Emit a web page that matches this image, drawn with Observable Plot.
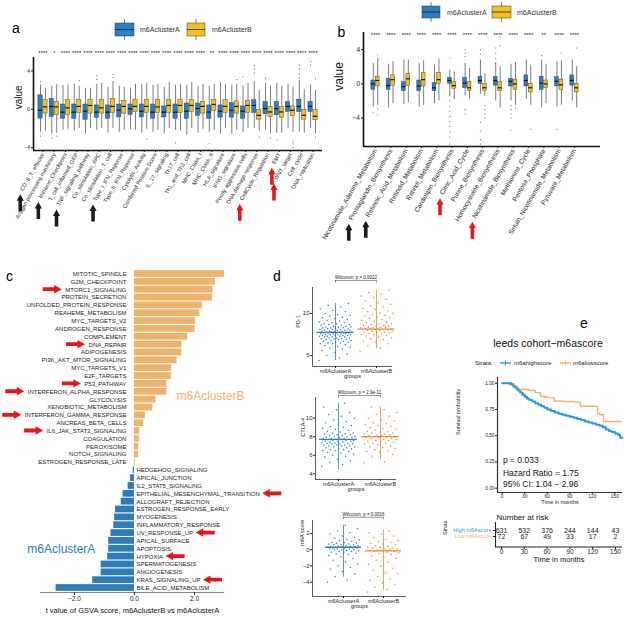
<!DOCTYPE html>
<html><head><meta charset="utf-8">
<script src="https://cdn.jsdelivr.net/npm/d3@7"></script>
<script src="https://cdn.jsdelivr.net/npm/@observablehq/plot@0.6"></script>
<style>
html,body{margin:0;padding:0;background:#fff;}
#fig{position:relative;width:625px;height:617px;overflow:hidden;background:#fff;font-family:"Liberation Sans",Arial,sans-serif;}
.pn{position:absolute;}
.pn svg{overflow:visible;}
</style></head><body><div id="fig"></div>
<script>
// ---------------- DATA ----------------
const clusters = ["m6AclusterA", "m6AclusterB"];

// panel a
const aCats = ["CD_8_T_effector","Antigen processing machinery","Immune_Checkpoint","T_cell_inflamed_GEP","TNF_signaling_pathway","Co_stimulation_APC","Co_stimulation_T_cell","Type_I_IFN_Reponse","Type_II_IFN_Reponse","Cytolytic_Activity","Combined Positive Score","IL_17_signaling","Th17_cell","Th1_and_Th2_cell","MHC_Class_I","MHC_Class_II","HLA_signature","IFNG_signature","Poorly aggressive cells","DNA damage response","CellCycle_Regulation","EMT","WNT_target","Cell_cycle","DNA_replication"];
const aSig = ["****","*","****","****","****","****","****","****","****","****","****","****","****","****","****","**","****","****","****","****","****","****","****","****","****"];
const aA_q1  = [-0.97,-0.8,-1.0,-1.0,-1.1,-0.9,-1.0,-0.85,-0.6,-0.85,-1.0,-0.85,-1.0,-1.0,-0.7,-1.0,-0.87,-0.87,-1.0,-0.38,-0.52,-0.63,-0.28,-0.28,-0.28];
const aA_med = [-0.1,0.3,-0.3,-0.3,-0.2,-0.3,-0.3,-0.1,0.05,-0.2,-0.3,-0.3,-0.3,-0.2,0.07,-0.28,-0.2,-0.1,-0.2,0.4,0.07,0.07,0.3,0.3,0.3];
const aA_q3  = [1.45,1.1,0.5,0.5,0.5,0.4,0.4,0.5,0.5,0.5,0.5,0.3,0.5,0.6,0.6,0.4,0.4,0.66,0.3,0.94,0.76,0.76,0.76,1.0,0.76];
const aA_lo  = [-2.4,-2.6,-2.2,-2.3,-2.6,-2.2,-2.5,-2.4,-2.1,-2.5,-2.4,-2.6,-2.2,-2.7,-2.5,-2.4,-2.6,-2.6,-2.4,-2.0,-2.2,-2.5,-2.0,-2.4,-2.0];
const aA_hi  = [2.5,2.4,2.5,2.6,2.2,2.6,2.3,2.4,2.2,2.6,2.5,2.3,2.5,2.5,2.4,2.4,2.8,2.5,2.4,2.9,2.7,2.7,2.6,3.0,2.5];
const aB_q1  = [-0.45,-0.6,-0.6,-0.4,-0.45,-0.45,-0.4,-0.45,-0.3,-0.4,-0.4,-0.4,-0.4,-0.28,-0.45,-0.17,-0.38,-0.45,-0.38,-1.08,-0.8,-0.87,-0.73,-1.08,-1.15];
const aB_med = [0.25,0.25,0.15,0.3,0.4,0.15,0.3,0.3,0.3,0.3,0.25,0.4,0.4,0.4,0.3,0.5,0.3,0.3,0.4,-0.63,-0.28,-0.28,-0.1,-0.63,-0.73];
const aB_q3  = [1.0,0.75,0.95,0.95,1.0,1.0,1.1,0.85,1.0,1.0,1.0,0.95,1.0,0.94,0.76,0.94,0.94,0.83,0.87,-0.1,0.24,0.24,0.3,-0.1,-0.1];
const aB_lo  = [-2.3,-2.5,-2.1,-2.0,-2.0,-2.0,-2.0,-2.2,-2.2,-2.1,-2.2,-2.0,-2.3,-2.0,-2.1,-2.2,-2.0,-2.2,-2.0,-2.3,-2.5,-2.5,-2.4,-2.5,-2.6];
const aB_hi  = [2.2,2.6,2.5,2.4,2.2,2.7,2.9,2.3,2.6,2.7,2.6,2.8,2.6,2.8,2.6,2.6,2.6,2.6,2.7,2.0,2.4,2.4,2.3,2.0,2.0];
const aOut = [[0,"A",-2.8],[0,"A",2.9],[1,"A",-3.0],[1,"B",-2.8],[3,"B",3.0],[5,"A",3.1],[5,"A",3.5],[6,"B",3.3],[6,"B",3.6],[9,"B",-3.1],[12,"A",-3.5],[15,"A",-3.6],[17,"B",3.1],[18,"A",3.4],[19,"A",4.6],[19,"A",4.2],[19,"A",3.8],[19,"B",-2.9],[20,"A",3.2],[20,"B",-3.0],[21,"A",-3.2],[22,"B",-3.3],[22,"B",-3.6],[22,"B",-4.0],[23,"A",4.6],[23,"A",4.2],[23,"A",3.7],[23,"A",3.3],[24,"A",5.0],[24,"A",4.6],[24,"B",3.2],[24,"B",-2.9]];
const aArrows = [["CD_8_T_effector","black"],["Immune_Checkpoint","black"],["TNF_signaling_pathway","black"],["Type_I_IFN_Reponse","black"],["CellCycle_Regulation","red"],["EMT","red"],["WNT_target","red"]];

// panel b
const bCats = ["Nicotinamide_Adenine_Metabolism","Prostaglandin_Biosynthesis","Retinoic_Acid_Metabolism","Retinoid_Metabolism","Retinol_Metabolism","Cardiolipin_Biosynthesis","Citric_Acid_Cycle","Purine_Biosynthesis","Homocysteine_Biosynthesis","Nicotinamide_Biosynthesis","Methionine_Cycle","Pentose_Phosphate","Sirtuin_Nicotinamide_Metabolism","Pyruvate_Metabolism"];
const bSig = ["****","****","****","****","****","****","****","****","****","****","****","**","****","****"];
const bA_q1  = [-0.7,-0.7,-0.85,-0.85,-0.85,0.0,-0.5,0.0,-0.2,-0.3,-0.3,-0.7,-0.3,-0.2];
const bA_med = [0.0,-0.2,-0.3,-0.25,-0.45,0.4,0.1,0.4,0.4,0.3,0.4,0.1,0.3,0.4];
const bA_q3  = [0.4,0.6,0.2,0.4,0.1,0.7,0.7,0.85,0.8,0.6,1.0,0.85,0.8,1.0];
const bA_lo  = [-2.7,-2.8,-2.4,-2.7,-2.3,-1.5,-1.4,-1.2,-2.0,-2.0,-1.8,-2.8,-2.7,-2.0];
const bA_hi  = [2.4,2.3,2.8,2.4,2.2,1.6,2.4,2.8,2.5,2.3,2.8,2.8,2.6,2.8];
const bB_q1  = [-0.3,-0.2,-0.2,-0.3,0.0,-0.6,-0.85,-0.8,-0.85,-0.7,-1.0,-0.5,-0.7,-1.0];
const bB_med = [0.4,0.5,0.6,0.5,0.5,-0.2,-0.45,-0.45,-0.45,0.0,-0.45,0.0,-0.1,-0.45];
const bB_q3  = [0.85,1.0,1.2,1.25,1.25,0.2,0.2,0.0,0.2,0.5,0.0,0.4,0.5,0.0];
const bB_lo  = [-2.5,-2.3,-2.2,-2.5,-2.0,-1.8,-1.8,-1.5,-2.8,-2.5,-2.5,-2.3,-2.5,-2.8];
const bB_hi  = [3.0,2.6,2.8,2.7,2.9,1.4,1.8,1.2,2.0,2.5,2.2,2.3,2.7,2.0];
const bOut = [[0,"A",-3.3],[0,"B",-3.6],[0,"B",-2.9],[0,"B",3.4],[5,"A",3.0],[5,"A",-2.0],[5,"A",-2.6],[5,"A",-3.2],[5,"A",-3.8],[5,"A",-4.4],[5,"A",-5.0],[5,"A",-5.6],[5,"A",-6.2],[5,"A",-7.0],[6,"A",4.0],[6,"A",3.6],[6,"A",3.2],[6,"A",-3.0],[6,"A",-3.5],[7,"A",4.0],[7,"A",3.5],[7,"A",-4.5],[7,"A",-5.5],[7,"A",-6.5],[7,"A",-7.0],[7,"B",-2.5],[7,"B",-3.0],[7,"B",-3.5],[7,"B",-4.0],[8,"A",4.2],[8,"A",3.6],[8,"A",3.0],[8,"B",5.5],[8,"B",4.5],[9,"A",-2.5],[9,"A",-3.0],[9,"A",-3.5],[9,"A",-4.0],[9,"A",-5.4],[9,"B",-2.8],[10,"B",-5.3],[11,"A",3.3],[12,"A",-5.3],[12,"B",3.6],[13,"B",4.2]];
const bArrows = [["Prostaglandin_Biosynthesis","black"],["Retinoic_Acid_Metabolism","black"],["Citric_Acid_Cycle","red"],["Nicotinamide_Biosynthesis","red"]];

// panel c
const cNames = ["MITOTIC_SPINDLE","G2M_CHECKPOINT","MTORC1_SIGNALING","PROTEIN_SECRETION","UNFOLDED_PROTEIN_RESPONSE","REAHEME_METABOLISM","MYC_TARGETS_V2","ANDROGEN_RESPONSE","COMPLEMENT","DNA_REPAIR","ADIPOGENESIS","PI3K_AKT_MTOR_SIGNALING","MYC_TARGETS_V1","E2F_TARGETS","P53_PATHWAY","INTERFERON_ALPHA_RESPONSE","GLYCOLYSIS","XENOBIOTIC_METABOLISM","INTERFERON_GAMMA_RESPONSE","ANCREAS_BETA_CELLS","IL6_JAK_STAT3_SIGNALING","COAGULATION","PEROXISOME","NOTCH_SIGNALING","ESTROGEN_RESPONSE_LATE","HEDGEHOG_SIGNALING","APICAL_JUNCTION","IL2_STAT5_SIGNALING","EPITHELIAL_MESENCHYMAL_TRANSITION","ALLOGRAFT_REJECTION","ESTROGEN_RESPONSE_EARLY","MYOGENESIS","INFLAMMATORY_RESPONSE","UV_RESPONSE_UP","APICAL_SURFACE","APOPTOSIS","HYPOXIA","SPERMATOGENESIS","ANGIOGENESIS","KRAS_SIGNALING_UP","BILE_ACID_METABOLISM"];
const cT = [3.0,2.7,2.62,2.6,2.26,2.18,2.03,2.02,1.77,1.58,1.58,1.42,1.24,1.23,1.08,1.08,0.72,0.61,0.37,0.31,0.17,0.16,0.14,0.14,0.03,-0.04,-0.13,-0.21,-0.38,-0.44,-0.63,-0.66,-0.69,-0.78,-0.86,-0.86,-0.89,-1.11,-1.11,-1.39,-2.61];
const cArrows = ["MTORC1_SIGNALING","DNA_REPAIR","P53_PATHWAY","INTERFERON_ALPHA_RESPONSE","INTERFERON_GAMMA_RESPONSE","IL6_JAK_STAT3_SIGNALING","EPITHELIAL_MESENCHYMAL_TRANSITION","UV_RESPONSE_UP","HYPOXIA","KRAS_SIGNALING_UP"];

// panel d
const dGroups = ["m6AclusterA", "m6AclusterB"];
const pd1A = [4.4,4.7,5.0,5.2,5.4,5.6,5.8,5.9,6.0,6.1,6.2,6.3,6.4,6.4,6.5,6.5,6.6,6.6,6.7,6.7,6.8,6.8,6.9,6.9,6.9,7.0,7.0,7.0,7.1,7.1,7.1,7.2,7.2,7.2,7.3,7.3,7.3,7.4,7.4,7.4,7.4,7.5,7.5,7.5,7.5,7.6,7.6,7.6,7.6,7.7,7.7,7.7,7.7,7.7,7.8,7.8,7.8,7.8,7.8,7.9,7.9,7.9,7.9,8.0,8.0,8.0,8.0,8.1,8.1,8.1,8.2,8.2,8.2,8.3,8.3,8.3,8.4,8.4,8.4,8.5,8.5,8.6,8.6,8.7,8.7,8.8,8.8,8.9,8.9,9.0,9.1,9.2,9.3,9.4,9.5,9.6,9.7,9.8,9.9,10.0,10.2,10.4,10.6,10.8,11.0,11.2];
const pd1B = [5.5,5.9,6.2,6.4,6.6,6.7,6.9,7.0,7.1,7.2,7.3,7.4,7.5,7.5,7.6,7.6,7.7,7.7,7.8,7.8,7.9,7.9,8.0,8.0,8.0,8.1,8.1,8.1,8.2,8.2,8.2,8.2,8.3,8.3,8.3,8.4,8.4,8.5,8.5,8.6,8.6,8.7,8.8,8.8,8.9,9.0,9.1,9.2,9.3,9.4,9.5,9.6,9.7,9.8,9.9,10.0,10.1,10.2,10.3,10.5,10.6,10.8,10.9,11.1,11.3,11.5,11.7,11.9,12.1,12.3,12.5,12.8];
const ctlaA = [4.8,5.0,5.2,5.4,5.6,5.8,5.9,6.0,6.1,6.2,6.3,6.4,6.5,6.5,6.6,6.6,6.7,6.7,6.8,6.8,6.9,6.9,7.0,7.0,7.0,7.1,7.1,7.1,7.2,7.2,7.2,7.3,7.3,7.3,7.4,7.4,7.4,7.5,7.5,7.5,7.6,7.6,7.6,7.7,7.7,7.7,7.7,7.8,7.8,7.8,7.9,7.9,7.9,8.0,8.0,8.0,8.1,8.1,8.2,8.2,8.3,8.3,8.4,8.4,8.5,8.6,8.7,8.8,8.9,9.0,9.1,9.2,9.3,9.5,9.6,9.8,10.0,10.2,10.4,10.6,10.9,11.2,11.6];
const ctlaB = [5.2,5.3,5.9,6.1,6.3,6.4,6.5,6.6,6.7,6.8,6.9,7.0,7.1,7.2,7.3,7.3,7.4,7.5,7.5,7.6,7.6,7.7,7.7,7.8,7.8,7.9,7.9,8.0,8.0,8.0,8.1,8.1,8.2,8.2,8.3,8.3,8.4,8.4,8.5,8.6,8.6,8.7,8.8,8.9,9.0,9.1,9.2,9.3,9.4,9.5,9.7,9.8,10.0,10.2,10.4,10.6,10.9,11.2];
const m6aA = [-4.0,-3.7,-3.3,-3.0,-2.7,-2.4,-2.2,-2.0,-1.8,-1.5,-1.3,-1.1,-0.9,-0.7,-0.6,-0.5,-0.4,-0.3,-0.3,-0.2,-0.2,-0.1,-0.1,0.0,0.0,0.0,0.1,0.1,0.1,0.2,0.2,0.2,0.2,0.3,0.3,0.3,0.3,0.4,0.4,0.4,0.4,0.5,0.5,0.5,0.6,0.6,0.6,0.7,0.7,0.8,0.8,0.9,0.9,1.0,1.1,1.2,1.3,1.4,1.5,1.7,1.9,2.1,2.3,2.6,3.0];
const m6aB = [-5.2,-4.9,-4.6,-4.3,-4.1,-3.8,-3.6,-3.3,-3.0,-2.8,-2.5,-2.3,-2.0,-1.8,-1.5,-1.3,-1.1,-0.9,-0.8,-0.6,-0.5,-0.4,-0.3,-0.2,-0.2,-0.1,-0.1,0.0,0.0,0.1,0.1,0.2,0.2,0.3,0.3,0.4,0.5,0.6,0.7,0.8,0.9,1.0,1.1,1.3,1.5,1.7,1.9,2.1,2.3];
const pd1Med = [7.75, 8.15], pd1Lo = [4.4, 5.8], pd1Hi = [11.2, 12.7];
const ctlaMed = [7.7, 8.0], ctlaLo = [4.4, 5.5], ctlaHi = [11.6, 11.2];
const m6aMed = [0.3, -0.15], m6aLo = [-3.4, -5.0], m6aHi = [3.0, 2.4];
const dPvals = ["Wilcoxon, p = 0.0022", "Wilcoxon, p = 2.9e-11", "Wilcoxon, p = 0.0016"];

// panel e
const kmHighT = [0,8,12,15,18,21,24,27,30,33,36,40,44,48,52,56,60,65,70,75,80,85,90,95,100,105,110,115,120,125,130,134,138,142,146,150,154,157,160];
const kmHighS = [1,1,0.99,0.97,0.95,0.93,0.91,0.89,0.87,0.855,0.84,0.825,0.81,0.795,0.78,0.765,0.75,0.735,0.72,0.71,0.70,0.69,0.68,0.67,0.66,0.65,0.635,0.625,0.615,0.605,0.595,0.58,0.56,0.545,0.535,0.52,0.51,0.48,0.48];
const kmLowT = [0,9,14,20,27,36,44,51,58,64,69,80,96,104,127,130,135,158];
const kmLowS = [1,0.985,0.965,0.945,0.94,0.93,0.91,0.875,0.865,0.86,0.83,0.825,0.82,0.78,0.71,0.70,0.635,0.635];
const kmNotes = ["p = 0.033", "Hazard Ratio = 1.75", "95% CI: 1.04 \u2212 2.96"];
const riskRows = ["High m6Ascore", "Low m6Ascore"];
const riskTimes = [0,30,60,90,120,150];
const riskHigh = [631,532,376,244,144,43];
const riskLow = [72,67,49,33,17,2];

// ---------------- STYLE ----------------
const FONT = "'Liberation Sans', Arial, Helvetica, sans-serif";
const BOXBLUE = "#2B7EC2", BOXYEL = "#EFC21F";
const C_OR = "#F1B26C", C_BL = "#2D7BB9";
const D_BL = "#2F7EC3", D_OR = "#EB8A2D";
const E_BL = "#2C9AD4", E_OR = "#F4B468";
const RED = "#E4161C";
const baseStyle = {fontFamily: FONT, background: "transparent", overflow: "visible", color: "#1e1e1e"};
const fig = document.getElementById("fig");
function mount(el, left, top, w, h) {
  const d = document.createElement("div");
  d.className = "pn";
  Object.assign(d.style, {left: left + "px", top: top + "px", width: w + "px", height: h + "px"});
  d.appendChild(el); fig.appendChild(d); return el;
}
const ctx = document.createElement("canvas").getContext("2d");
function tw(s, size) { ctx.font = `${size}px "Liberation Sans"`; return ctx.measureText(s).width; }

function boxRows(cats, A, B, off) {
  return cats.flatMap((c, i) => [
    {i, cl: clusters[0], x: i - off, q1: A[0][i], med: A[1][i], q3: A[2][i], lo: A[3][i], hi: A[4][i]},
    {i, cl: clusters[1], x: i + off, q1: B[0][i], med: B[1][i], q3: B[2][i], lo: B[3][i], hi: B[4][i]}
  ]);
}
function boxPlot(cfg) {
  const rows = boxRows(cfg.cats, cfg.A, cfg.B, cfg.off);
  const outs = cfg.out.map(([i, cl, v]) => ({x: i + (cl === "A" ? -cfg.off : cfg.off), v}));
  const hw = cfg.hw;
  return Plot.plot({
    width: cfg.w, height: cfg.h, marginLeft: cfg.ml, marginRight: cfg.mr, marginTop: cfg.mt, marginBottom: cfg.mb,
    style: baseStyle,
    x: {domain: cfg.xd}, y: {domain: cfg.yd},
    color: {domain: clusters, range: [BOXBLUE, BOXYEL]},
    marks: [
      Plot.ruleX(rows, {x: "x", y1: "lo", y2: "q1", stroke: "#6e6e6e", strokeWidth: 0.9}),
      Plot.ruleX(rows, {x: "x", y1: "q3", y2: "hi", stroke: "#6e6e6e", strokeWidth: 0.9}),
      Plot.dot(outs, {x: "x", y: "v", r: 0.55, fill: "#555"}),
      Plot.rectY(rows, {x1: d => d.x - hw, x2: d => d.x + hw, y1: "q1", y2: "q3", fill: "cl", stroke: "#3a3a3a", strokeWidth: 0.45}),
      Plot.ruleY(rows, {y: "med", x1: d => d.x - hw, x2: d => d.x + hw, stroke: "#111", strokeWidth: 1.2}),
      Plot.text(cfg.sig, {x: (d, i) => i, text: d => d, frameAnchor: "top", dy: cfg.sigDy, fontSize: 6, fill: "#222"}),
      Plot.ruleX([cfg.xd[0]], {stroke: "#111", strokeWidth: 1.6}),
      Plot.ruleY([cfg.yd[0]], {stroke: "#111", strokeWidth: 1.6}),
      Plot.axisY({ticks: [-4, 0, 4], tickSize: 2, tickPadding: 1.5, fontSize: cfg.yfs, label: null}),
      Plot.axisX({ticks: d3.range(cfg.cats.length), tickFormat: i => cfg.cats[i], tickRotate: -60, tickSize: 2, tickPadding: 1, fontSize: cfg.lfs, label: null}),
      Plot.text(["value"], {y: () => cfg.vy, frameAnchor: "left", dx: cfg.vdx, rotate: -90, fontSize: cfg.vfs, fill: "#111"})
    ]
  });
}

// ---------------- PANEL A ----------------
const A_LFS = 5.6;
const plotA = mount(boxPlot({
  cats: aCats, sig: aSig, out: aOut, off: 0.22, hw: 0.19,
  A: [aA_q1, aA_med, aA_q3, aA_lo, aA_hi], B: [aB_q1, aB_med, aB_q3, aB_lo, aB_hi],
  w: 325, h: 232, ml: 33, mr: 3, mt: 57, mb: 82, xd: [-0.844, 24.84], yd: [-4.3, 5.4],
  sigDy: -7, yfs: 5, lfs: A_LFS, vy: 0, vdx: -15, vfs: 10
}), 0, 0, 325, 232);

// ---------------- PANEL B ----------------
const B_LFS = 6.6;
const plotB = mount(boxPlot({
  cats: bCats, sig: bSig, out: bOut, off: 0.145, hw: 0.125,
  A: [bA_q1, bA_med, bA_q3, bA_lo, bA_hi], B: [bB_q1, bB_med, bB_q3, bB_lo, bB_hi],
  w: 300, h: 250, ml: 43, mr: 20, mt: 32, mb: 104, xd: [-0.784, 14.7], yd: [-7.3, 6.0],
  sigDy: 0, yfs: 6.5, lfs: B_LFS, vy: -0.8, vdx: -24.5, vfs: 12
}), 320, 0, 300, 250);

// ---------------- PANEL C ----------------
const cData = cNames.map((name, k) => ({name, t: cT[k], side: cT[k] > 0 ? "B" : "A"}));
const CX = [-3.13, 3.0];
const plotC = mount(Plot.plot({
  width: 300, height: 357, marginLeft: 40, marginRight: 76, marginTop: 9, marginBottom: 25,
  style: baseStyle,
  x: {domain: CX},
  y: {domain: cNames, padding: 0.14, axis: null},
  color: {domain: ["B", "A"], range: [C_OR, C_BL]},
  marks: [
    Plot.barX(cData, {y: "name", x: "t", fill: "side"}),
    Plot.text(cData.filter(d => d.t > 0), {y: "name", x: () => 0, text: "name", textAnchor: "end", dx: -8, fontSize: 6, fill: "#1a1a1a"}),
    Plot.text(cData.filter(d => d.t <= 0), {y: "name", x: () => 0, text: "name", textAnchor: "start", dx: 2, fontSize: 6, fill: "#1a1a1a"}),
    Plot.text(["m6AclusterB"], {x: () => 1.4, y: () => "GLYCOLYSIS", dy: -3, textAnchor: "start", fontSize: 12, fill: C_OR}),
    Plot.text(["m6AclusterA"], {x: () => -3.57, y: () => "APOPTOSIS", textAnchor: "start", fontSize: 12, fill: C_BL}),
    Plot.axisX({ticks: [-2, 0, 2], tickSize: 3, tickPadding: 1, fontSize: 6.5, label: null}),
    Plot.text(["t value of GSVA score, m6AclusterB vs m6AclusterA"], {frameAnchor: "bottom", dy: 20, fontSize: 7.5, fill: "#111"})
  ]
}), 0, 260, 300, 357);
{
  const sx = plotC.scale("x"), sy = plotC.scale("y");
  const yb = sy.range ? Math.max(...sy.range) : 332;
  d3.select(plotC).append("line").attr("x1", sx.apply(CX[0])).attr("x2", sx.apply(CX[1]))
    .attr("y1", yb + 0.5).attr("y2", yb + 0.5).attr("stroke", "#333").attr("stroke-width", 0.6);
}

// ---------------- PANEL D ----------------
function strip(cfg) {
  const rows = [];
  cfg.vals.forEach((arr, g) => arr.forEach((v, k) => rows.push({g, v, j: ((k * 0.6180339887) % 1) - 0.5})));
  const meds = cfg.med.map((m, g) => ({g, m, lo: cfg.lo[g], hi: cfg.hi[g]}));
  return Plot.plot({
    width: cfg.w, height: cfg.h, marginLeft: cfg.ml, marginRight: cfg.mr, marginTop: cfg.mt, marginBottom: cfg.mb,
    style: baseStyle,
    x: {domain: cfg.xd}, y: {domain: cfg.yd},
    color: {domain: dGroups, range: [D_BL, D_OR]},
    marks: [
      Plot.dot(rows, {x: d => d.g + d.j * 0.8, y: "v", r: 0.75, fill: d => dGroups[d.g]}),
      Plot.ruleX(meds, {x: "g", y1: "lo", y2: "hi", stroke: d => dGroups[d.g], strokeWidth: 0.8}),
      Plot.ruleY(meds, {y: "m", x1: d => d.g - 0.45, x2: d => d.g + 0.45, stroke: d => dGroups[d.g], strokeWidth: 1.3}),
      Plot.ruleY([cfg.by], {x1: () => 0, x2: () => 1, stroke: "#333", strokeWidth: 0.5}),
      Plot.ruleX([0, 1], {x: d => d, y1: () => cfg.by - cfg.bt, y2: () => cfg.by, stroke: "#333", strokeWidth: 0.5}),
      Plot.text([cfg.p], {x: () => 0.5, y: () => cfg.by, dy: -3, fontSize: 4.5, fill: "#222"}),
      Plot.ruleX([cfg.xd[0]], {stroke: "#333", strokeWidth: 0.8}),
      Plot.ruleY([cfg.yd[0]], {stroke: "#333", strokeWidth: 0.8}),
      Plot.axisY({ticks: cfg.ticks, tickSize: 2, tickPadding: 1, fontSize: 6, label: null}),
      Plot.axisX({ticks: [0, 1], tickFormat: i => dGroups[i], tickSize: 2, tickPadding: 0.5, fontSize: 5.5, label: null}),
      Plot.text(["groups"], {frameAnchor: "bottom", dy: 11, fontSize: 5.5, fill: "#222"}),
      Plot.text([cfg.ylab], {y: () => cfg.ylabY, frameAnchor: "left", dx: cfg.ylabDx, rotate: -90, fontSize: 5.5, fill: "#222"})
    ]
  });
}
mount(strip({vals: [pd1A, pd1B], med: pd1Med, lo: pd1Lo, hi: pd1Hi, p: dPvals[0],
  w: 120, h: 115, ml: 32, mr: 8, mt: 17, mb: 19, xd: [-0.561, 1.39], yd: [3.7, 13.1], ticks: [5, 10],
  by: 13.93, bt: 0.3, ylab: "PD-1", ylabY: 8.3, ylabDx: -14}), 280, 270, 120, 115);
mount(strip({vals: [ctlaA, ctlaB], med: ctlaMed, lo: ctlaLo, hi: ctlaHi, p: dPvals[1],
  w: 125, h: 115, ml: 35, mr: 9, mt: 12, mb: 21, xd: [-0.548, 1.381], yd: [3.38, 12.23], ticks: [4, 6, 8, 10],
  by: 12.45, bt: 0.3, ylab: "CTLA-4", ylabY: 8.0, ylabDx: -12.5}), 280, 385, 125, 115);
mount(strip({vals: [m6aA, m6aB], med: m6aMed, lo: m6aLo, hi: m6aHi, p: dPvals[2],
  w: 130, h: 117, ml: 32, mr: 4, mt: 20, mb: 21, xd: [-0.775, 1.575], yd: [-5.77, 3.6], ticks: [-4, -2, 0, 2],
  by: 4.0, bt: 0.3, ylab: "m6A score", ylabY: 0.5, ylabDx: -10}), 280, 500, 130, 117);

// ---------------- PANEL E ----------------
const kmRows = [
  ...kmHighT.map((t, k) => ({t, s: kmHighS[k], strata: "m6ahighscore"})),
  ...kmLowT.map((t, k) => ({t, s: kmLowS[k], strata: "m6alowscore"}))
];
const EX = [-6.26, 160.2], EY = [-0.041, 1.054];
mount(Plot.plot({
  width: 185, height: 140, marginLeft: 57, marginRight: 3, marginTop: 7, marginBottom: 18,
  style: baseStyle,
  x: {domain: EX}, y: {domain: EY},
  color: {domain: ["m6ahighscore", "m6alowscore"], range: [E_BL, E_OR]},
  marks: [
    Plot.line(kmRows.filter(d => d.strata === "m6alowscore"), {x: "t", y: "s", stroke: "strata", curve: "step-after", strokeWidth: 1.4}),
    Plot.line(kmRows.filter(d => d.strata === "m6ahighscore"), {x: "t", y: "s", stroke: "strata", curve: "step-after", strokeWidth: 2}),
    Plot.ruleX([EX[0]], {stroke: "#333", strokeWidth: 1.2}),
    Plot.ruleY([EY[0]], {stroke: "#333", strokeWidth: 1.2}),
    Plot.axisY({ticks: [0, 0.25, 0.5, 0.75, 1], tickFormat: ".2f", tickSize: 2, tickPadding: 1, fontSize: 4.8, label: null}),
    Plot.axisX({ticks: riskTimes, tickSize: 2, tickPadding: 0.5, fontSize: 4.8, label: null}),
    Plot.text(["Survival probability"], {frameAnchor: "left", dx: -39, rotate: -90, fontSize: 5.5, fill: "#222"}),
    Plot.text(["Time in months"], {frameAnchor: "bottom", dy: 11, fontSize: 5.5, fill: "#222"}),
    Plot.text(kmNotes, {x: () => 1, y: (d, i) => [0.264, 0.143, 0.035][i], text: d => d, textAnchor: "start", fontSize: 8.5, fill: "#111"})
  ]
}), 440, 370, 185, 140);

const riskCells = [
  ...riskTimes.map((t, k) => ({t, row: riskRows[0], n: riskHigh[k]})),
  ...riskTimes.map((t, k) => ({t, row: riskRows[1], n: riskLow[k]}))
];
const RX = [-7.9, 159.2];
const plotR = mount(Plot.plot({
  width: 185, height: 60, marginLeft: 55, marginRight: 3, marginTop: 17, marginBottom: 18,
  style: baseStyle,
  x: {domain: RX},
  y: {type: "point", domain: riskRows, range: [21.7, 35]},
  color: {domain: riskRows, range: [E_BL, E_OR]},
  marks: [
    Plot.text(riskCells, {x: "t", y: "row", text: "n", fontSize: 7, fill: "#222"}),
    Plot.text(riskRows, {x: () => RX[0], y: d => d, text: d => d, textAnchor: "end", dx: -4, fontSize: 5.6, fill: d => d}),
    Plot.ruleX([RX[0]], {stroke: "#222", strokeWidth: 1.1}),
    Plot.axisY({tickSize: 2, tickFormat: () => "", label: null}),
    Plot.axisX({ticks: riskTimes, tickSize: 2, tickPadding: 0, fontSize: 6.5, label: null}),
    Plot.text(["Time in months"], {frameAnchor: "bottom", dy: 14, fontSize: 7.5, fill: "#111"}),
    Plot.text(["Number at risk"], {frameAnchor: "top-left", dx: 1, dy: -8, textAnchor: "start", fontSize: 8, fill: "#111"}),
    Plot.text(["Strata"], {frameAnchor: "left", dx: -50, rotate: -90, fontSize: 5.5, fill: "#222"})
  ]
}), 440, 505, 185, 60);
{
  const sx = plotR.scale("x");
  d3.select(plotR).append("line").attr("x1", sx.apply(RX[0])).attr("x2", sx.apply(RX[1]))
    .attr("y1", 42).attr("y2", 42).attr("stroke", "#222").attr("stroke-width", 1.1);
}

// ---------------- OVERLAY (letters, legends, arrows) ----------------
const ov = d3.select(fig).append("svg").attr("width", 625).attr("height", 617)
  .style("position", "absolute").style("left", 0).style("top", 0).style("pointer-events", "none")
  .style("font-family", FONT);
function txt(x, y, s, size, opt = {}) {
  return ov.append("text").attr("x", x).attr("y", y).attr("font-size", size)
    .attr("fill", opt.fill || "#111").attr("text-anchor", opt.anchor || "start")
    .attr("dominant-baseline", opt.base || "central").text(s);
}
[["a", 12, 33], ["b", 337.5, 36.5], ["c", 6, 280.5], ["d", 273, 281], ["e", 580, 328]].forEach(([s, x, y]) =>
  txt(x, y, s, 14, {base: "auto", fill: "#000"}));

function boxKey(x, y, w, h, fill) {
  ov.append("line").attr("x1", x + w / 2).attr("x2", x + w / 2).attr("y1", y - 4).attr("y2", y + h + 4).attr("stroke", "#666").attr("stroke-width", 0.9);
  ov.append("rect").attr("x", x).attr("y", y).attr("width", w).attr("height", h).attr("fill", fill).attr("stroke", "#3a3a3a").attr("stroke-width", 0.5);
  ov.append("line").attr("x1", x).attr("x2", x + w).attr("y1", y + h / 2).attr("y2", y + h / 2).attr("stroke", "#222").attr("stroke-width", 0.8);
}
boxKey(115, 23, 19, 13, BOXBLUE); txt(140, 29.7, clusters[0], 7, {fill: "#333"});
boxKey(187, 23, 18, 13, BOXYEL); txt(212, 29.7, clusters[1], 7, {fill: "#333"});
boxKey(422, 6, 18, 12, BOXBLUE); txt(447, 12.5, clusters[0], 7, {fill: "#333"});
boxKey(492, 6, 19, 12, BOXYEL); txt(517, 12.5, clusters[1], 7, {fill: "#333"});

// panel e title + legend
txt(548, 343, "leeds cohort\u2212m6ascore", 10.5, {anchor: "middle"});
txt(475, 363, "Strata", 6, {fill: "#222"});
[[500, E_BL, "m6ahighscore", 514], [560, E_OR, "m6alowscore", 573]].forEach(([x, c, s, tx]) => {
  ov.append("line").attr("x1", x).attr("x2", x + 11).attr("y1", 363).attr("y2", 363).attr("stroke", c).attr("stroke-width", 1.4);
  ov.append("line").attr("x1", x + 5.5).attr("x2", x + 5.5).attr("y1", 360.5).attr("y2", 365.5).attr("stroke", c).attr("stroke-width", 1);
  txt(tx, 363, s, 6, {fill: "#222"});
});

// arrows
function upArrow(x, y, c) {
  ov.append("path").attr("d", `M${x},${y}l3.6,6.5h-1.8v10.5h-3.6v-10.5h-1.8z`).attr("fill", c);
}
function rightArrow(x, y) {
  ov.append("path").attr("d", `M${x},${y}l-7.5,-4.2v2.3h-11.5v3.8h11.5v2.3z`).attr("fill", RED);
}
function leftArrow(x, y) {
  ov.append("path").attr("d", `M${x},${y}l7.5,-4.2v2.3h11.5v3.8h-11.5v2.3z`).attr("fill", RED);
}
function labelArrows(plot, cats, list, fs, left, top) {
  const sx = plot.scale("x"), sy = plot.scale("y");
  const yb = sy.apply(sy.domain[0]);
  list.forEach(([cat, col]) => {
    const i = cats.indexOf(cat);
    const L = tw(cat, fs);
    const ax = left + sx.apply(i), ay = top + yb + 3.5;
    const ex = ax - 0.5 * L, ey = ay + 0.866 * L;
    upArrow(ex - 1, ey + 4, col === "red" ? RED : "#1b1b1b");
  });
}
labelArrows(plotA, aCats, aArrows, A_LFS, 0, 0);
labelArrows(plotB, bCats, bArrows, B_LFS, 320, 0);
{
  const sx = plotC.scale("x"), sy = plotC.scale("y");
  const x0 = sx.apply(0);
  cArrows.forEach(name => {
    const d = cData.find(r => r.name === name);
    const yc = 260 + sy.apply(name) + sy.bandwidth / 2;
    const L = tw(name, 6);
    if (d.t > 0) rightArrow(x0 - 8 - L - 3, yc);
    else leftArrow(x0 + 2 + L + 3, yc);
  });
}
</script></body></html>
